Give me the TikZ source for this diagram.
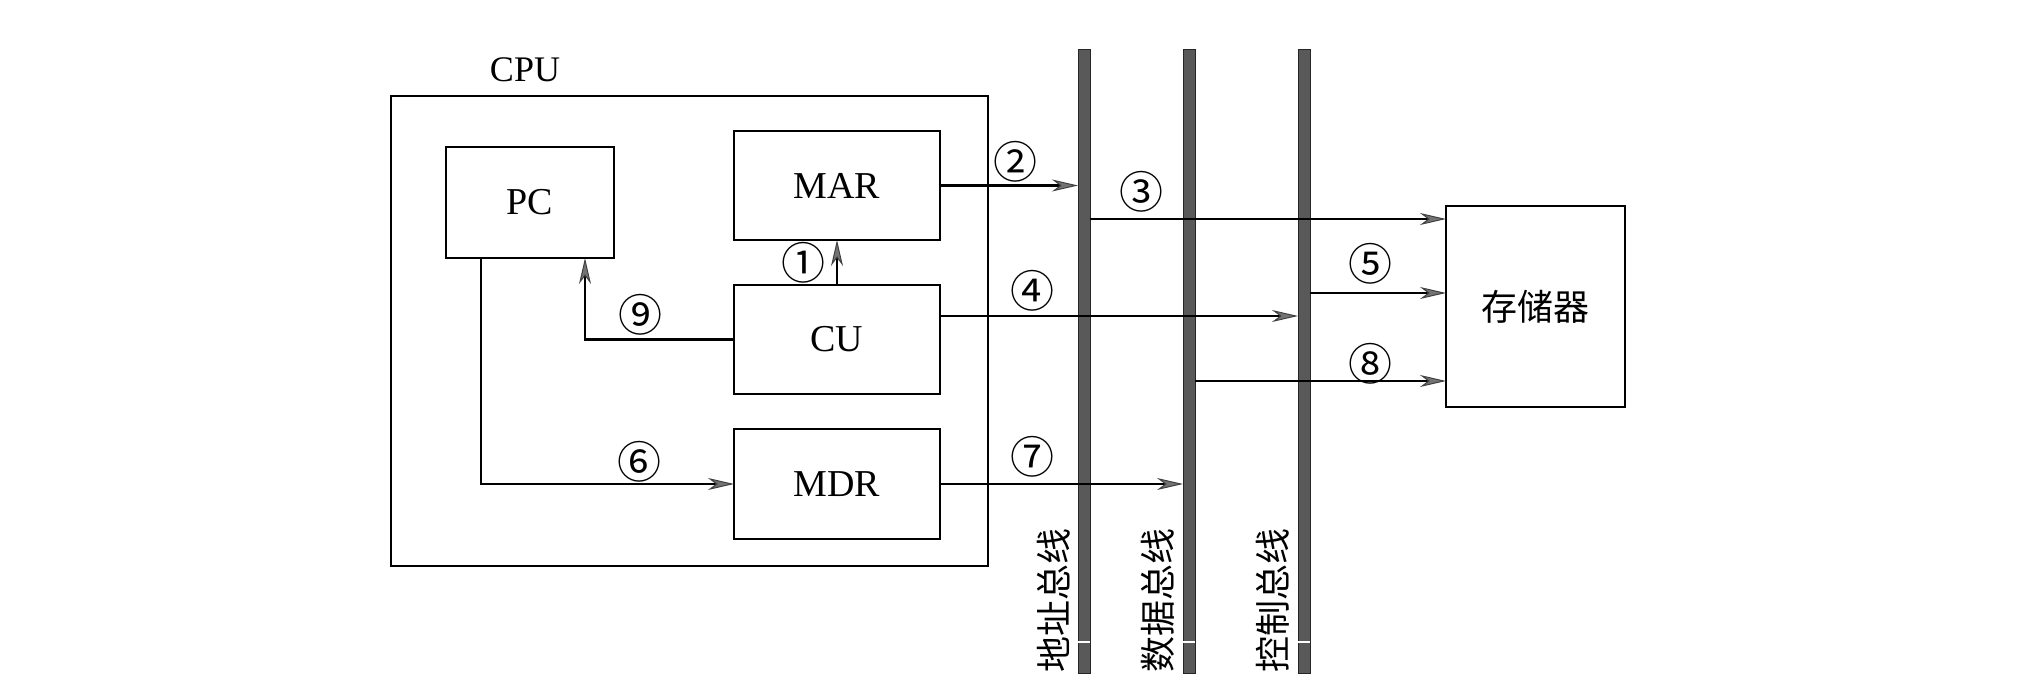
\documentclass[tikz,border=0pt]{standalone}
\usepackage{fontspec}
\setmainfont{Liberation Serif}
\newfontfamily\cjk{Noto Sans CJK SC}
\usetikzlibrary{arrows.meta,calc}
\begin{document}
\begin{tikzpicture}[x=0.5pt,y=-0.5pt,
  box/.style={draw,line width=1.2pt,inner sep=0pt,outer sep=0pt,font=\fontsize{19}{19}\selectfont},
  bus/.style={draw=black!85,fill=black!65,line width=0.5pt,inner sep=0pt,outer sep=0pt,minimum width=6pt,minimum height=311.5pt},
  conn/.style={line width=1.2pt,-{Stealth[length=13pt,width=6pt,inset=4pt,color=black!75,fill=black!55,line width=0.5pt]}},
  num/.style={font=\cjk\fontsize{22}{22}\selectfont,inner sep=0pt},
  buslabel/.style={font=\cjk\fontsize{18}{18}\selectfont,rotate=90,inner sep=0pt}]
\useasboundingbox (0,0) rectangle (2028,700);
% CPU
\node[box,minimum width=298.5pt,minimum height=235pt] (cpu) at (689.5,331) {};
\node[font=\fontsize{18}{18}\selectfont,inner sep=0pt] (cpulab) at (525,70) {CPU};
\node[box,minimum width=84pt,minimum height=55.5pt] (PC) at (530,202.5) {PC};
\node[box,minimum width=103pt,minimum height=54.5pt] (MAR) at (837,185.5) {MAR};
\node[box,minimum width=103pt,minimum height=54.5pt] (CU) at (837,339.5) {CU};
\node[box,minimum width=103pt,minimum height=55pt] (MDR) at (837,484) {MDR};
% memory
\node[box,minimum width=89.5pt,minimum height=100.5pt,font=\cjk\fontsize{18}{18}\selectfont] (mem) at (1535.5,306.5) {存储器};
% buses
\node[bus] (ab) at (1084,361.5) {};
\node[bus] (db) at (1189,361.5) {};
\node[bus] (cb) at (1304,361.5) {};
\foreach \b in {ab,db,cb}{
  \draw[white,line width=0.8pt] ($(\b.south west)+(0,-31)$) -- ($(\b.south east)+(0,-31)$);
}
\node[buslabel] (abl) at (1054,600) {地址总线};
\node[buslabel] (dbl) at (1158,600) {数据总线};
\node[buslabel] (cbl) at (1273,600) {控制总线};
% internal connectors
\draw[conn] (CU.north) -- (MAR.south);
\draw[conn] (CU.west) -| ($(PC.south)+(55,0)$);
\draw[conn] ($(PC.south)+(-49,0)$) |- (MDR.west);
% external connectors
\draw[conn] (MAR.east) -- (MAR.east -| ab.west);
\coordinate (m3) at ($(mem.north west)+(0,13)$);
\draw[conn] (m3 -| ab.east) -- (m3);
\coordinate (c4) at ($(CU.north east)+(0,31)$);
\draw[conn] (c4) -- (c4 -| cb.west);
\coordinate (m5) at ($(mem.north west)+(0,87)$);
\draw[conn] (m5 -| cb.east) -- (m5);
\coordinate (m8) at ($(mem.north west)+(0,175)$);
\draw[conn] (m8 -| db.east) -- (m8);
\draw[conn] (MDR.east) -- (MDR.east -| db.west);
% labels
\node[num] (n1) at (803,263) {①};
\node[num] (n2) at (1015,162) {②};
\node[num] (n3) at (1141,192) {③};
\node[num] (n4) at (1032,291) {④};
\node[num] (n5) at (1370,264) {⑤};
\node[num] (n6) at (639,462) {⑥};
\node[num] (n7) at (1032,457) {⑦};
\node[num] (n8) at (1370,364) {⑧};
\node[num] (n9) at (640,315) {⑨};
\end{tikzpicture}
\end{document}
